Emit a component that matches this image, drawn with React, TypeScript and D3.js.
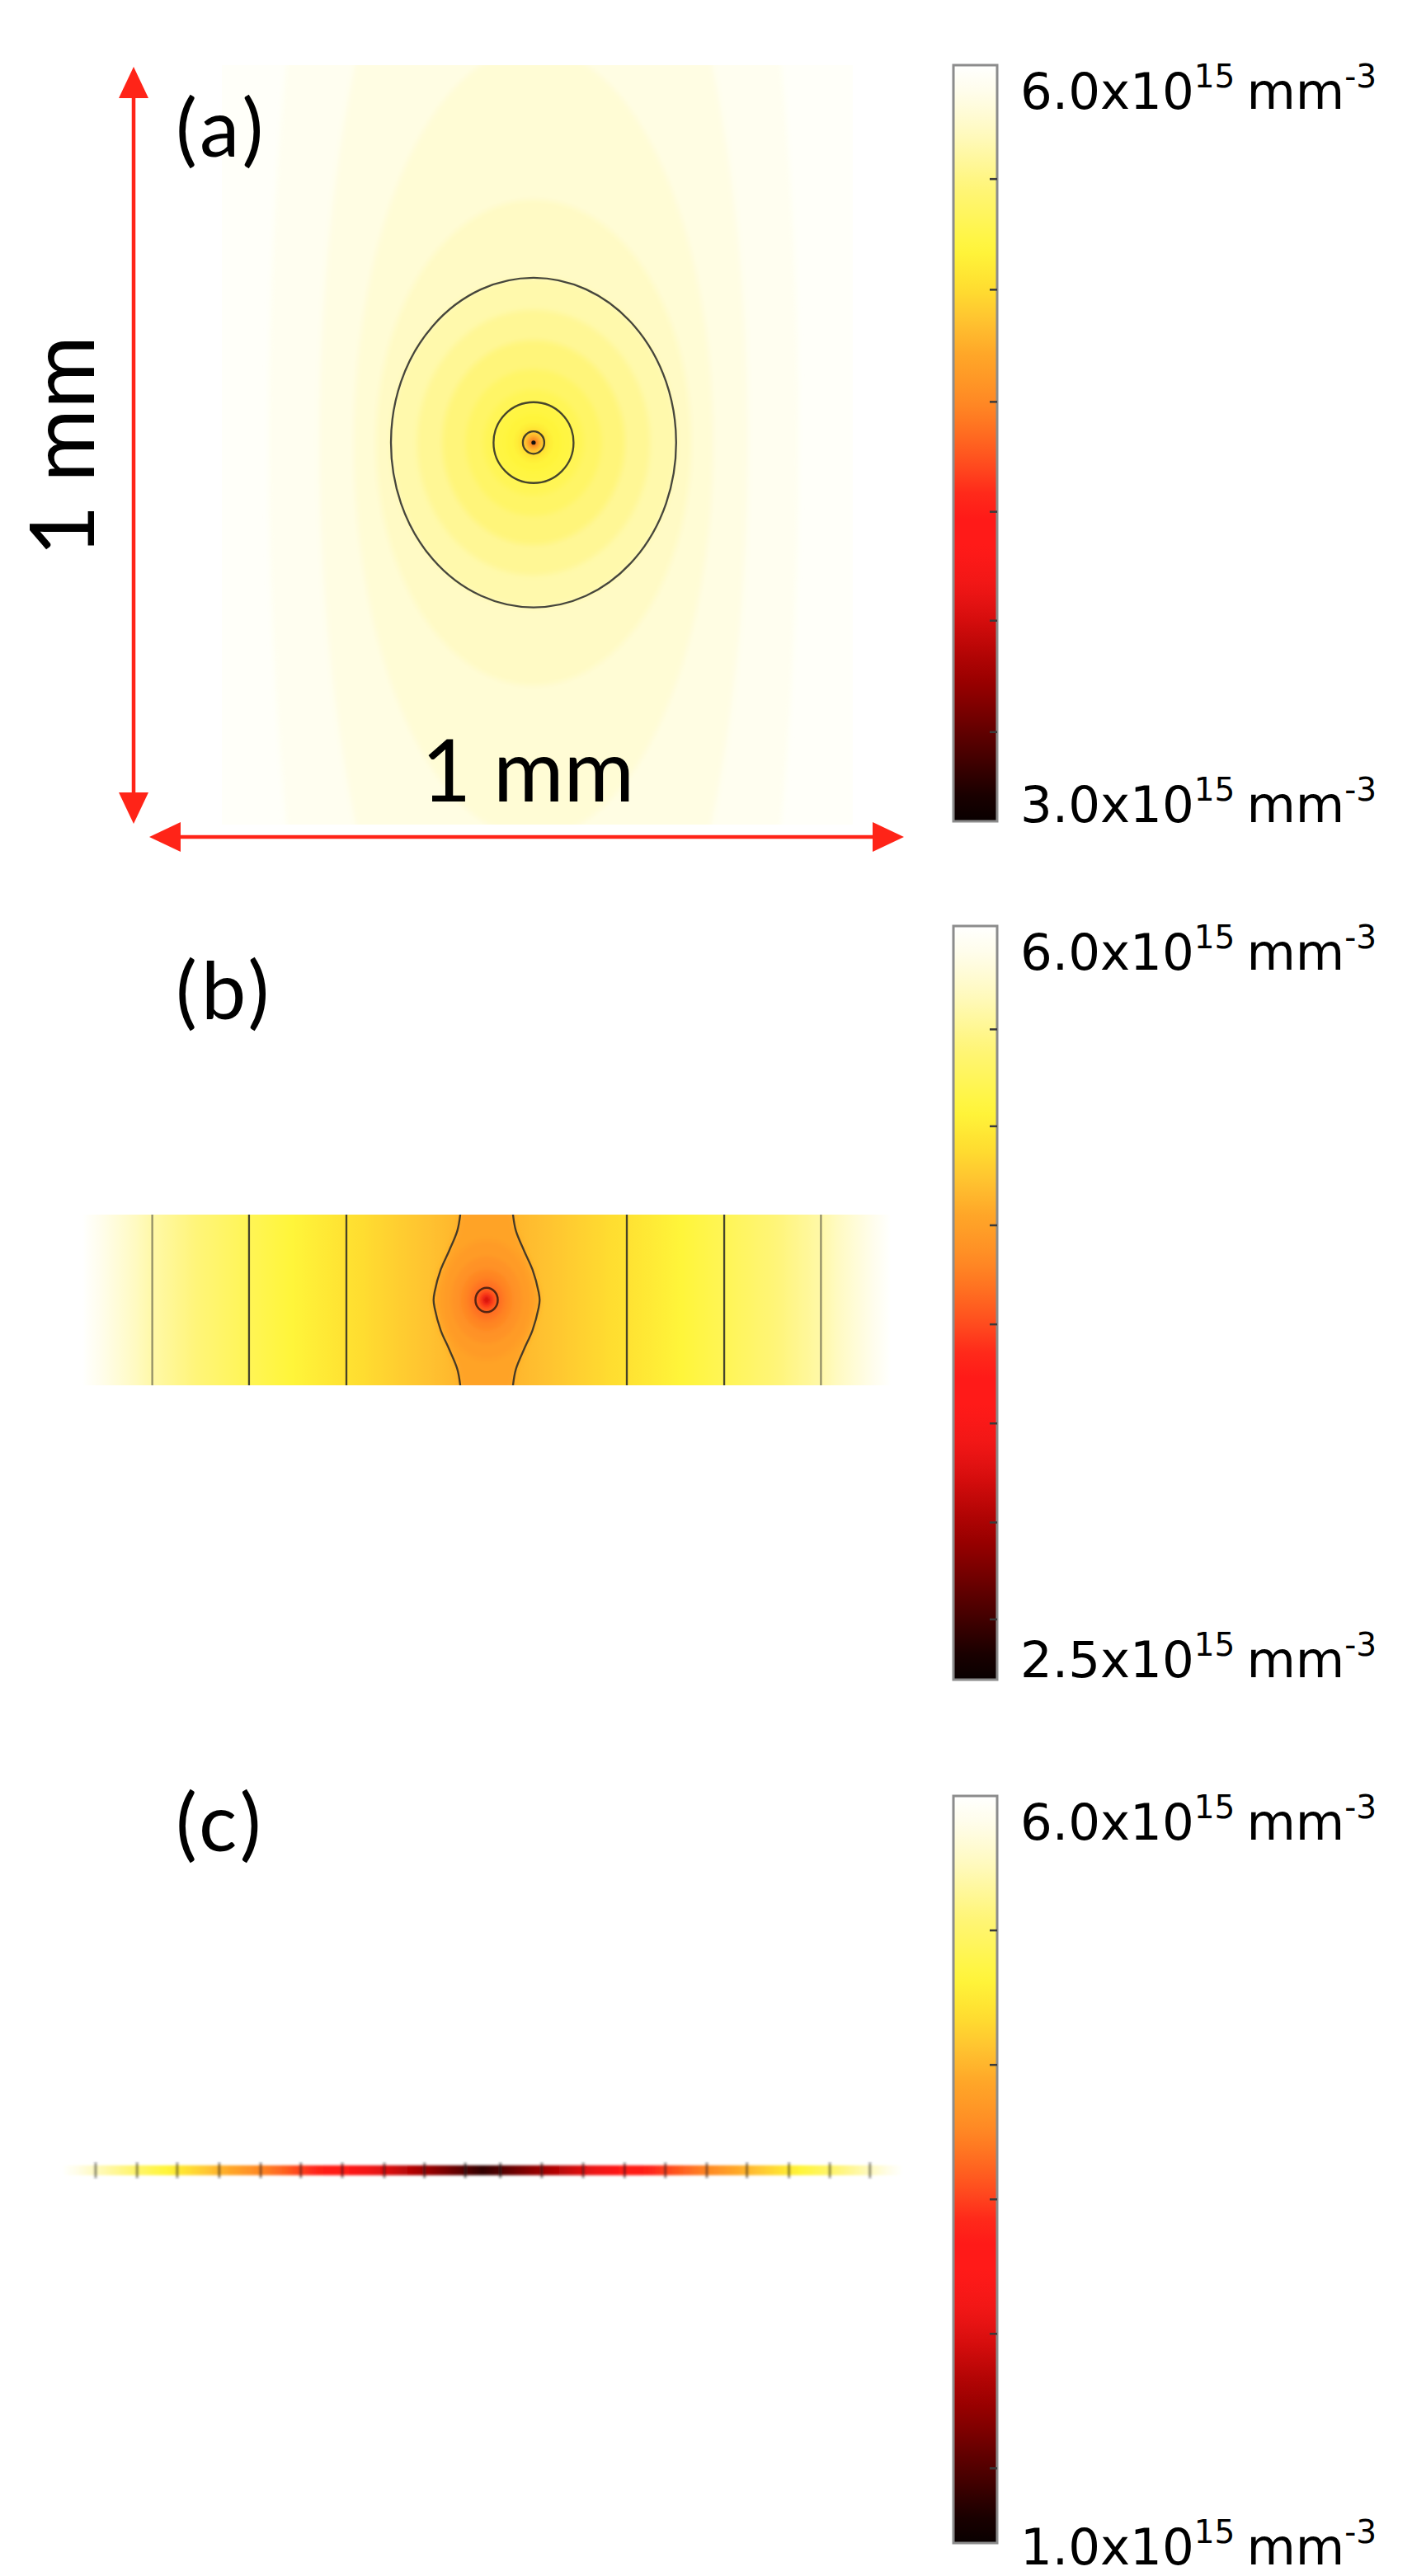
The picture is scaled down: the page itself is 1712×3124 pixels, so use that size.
import React from 'react';
import * as d3 from 'd3';

// ---------- colour map (t = 0 bottom, 1 top) ----------
const HEAT_T = [0, 0.035, 0.07, 0.107, 0.144, 0.18, 0.216, 0.27, 0.31, 0.36, 0.4, 0.435, 0.47, 0.51, 0.555, 0.62, 0.657, 0.704, 0.755, 0.84, 0.91, 0.96, 1];
const HEAT_COLORS = ['#080000', '#1a0000', '#380000', '#580000', '#780000', '#960000', '#b00404', '#d80e0e', '#f01616', '#ff1a18', '#ff1a18', '#ff2a1a', '#ff4a1e', '#ff6a20', '#ff8a24', '#ffa828', '#ffc030', '#ffdd30', '#fff53a', '#fff57a', '#fffac0', '#fffde8', '#ffffff'];

// ---------- texts ----------
const PANEL_LABELS = ['(a)', '(b)', '(c)'];
const LENGTH_LABEL = '1 mm';
const BAR_MAX_LABELS = ['6.0', '6.0', '6.0'];
const BAR_MIN_LABELS = ['3.0', '2.5', '1.0'];

// ---------- colour ranges (x10^15 mm^-3) and colour-bar ticks ----------
const RANGE_A = [3.0, 6.0];
const RANGE_B = [2.5, 6.0];
const RANGE_C = [1.0, 6.0];
const TICKS_A = [5.548, 5.109, 4.664, 4.228, 3.796, 3.354];
const TICKS_B = [5.52, 5.07, 4.61, 4.15, 3.69, 3.23, 2.78];
const TICKS_C = [5.1, 4.2, 3.3, 2.4, 1.5];

// ---------- panel (a): square cross-section, nested iso-bands (µm) ----------
const A_CENTER = { x: -6, y: 3 };
const A_BACKGROUND = 5.97;
const A_BANDS_V = [5.92, 5.86, 5.81, 5.75, 5.67, 5.6, 5.52, 5.44, 5.38, 5.3, 5.26, 5.18, 4.95, 4.7, 3.8];
const A_BANDS_RX = [420, 340, 285, 250, 226, 185, 145, 108, 80, 63.4, 45, 28, 17, 9, 4];
const A_BANDS_RY = [1400, 900, 520, 320, 217, 175, 135, 97, 70, 53.2, 38, 24, 14.7, 8, 3.6];
const A_CONTOUR_RX = [226, 63.4, 17];
const A_CONTOUR_RY = [217, 53.2, 14.7];

// ---------- panel (b): rectangular strip ----------
const B_PROFILE_X = [-650, -600, -527, -450, -374.5, -300, -221, -120, -41.6, 0, 41.6, 120, 221, 300, 374.5, 450, 527, 600, 650];
const B_PROFILE_V = [6.05, 5.85, 5.6, 5.42, 5.27, 5.13, 5.0, 4.85, 4.74, 4.68, 4.74, 4.85, 5.0, 5.13, 5.27, 5.42, 5.6, 5.85, 6.05];
const B_STRAIGHT_CONTOURS = [-527, -374.5, -221, 221, 374.5, 527];
const B_SPINDLE_Y = [-140, -110, -78, -48, -12.5, 0, 12.5, 48, 78, 110, 140];
const B_SPINDLE_DX = [41, 46, 59, 72.3, 82, 83.6, 82, 72.3, 59, 46, 41];
const B_SPINDLE_V = 4.63;
const B_DIP_V = [4.57, 4.5, 4.42, 4.33, 4.2, 3.95, 3.5, 2.9];
const B_DIP_RX = [70, 55, 40, 28, 17.6, 11, 6, 3];
const B_DIP_RY = [95, 68, 48, 33, 19.1, 12, 6.5, 3];
const B_CIRCLE_RX = 17.6;
const B_CIRCLE_RY = 19.1;

// ---------- panel (c): thin strip profile ----------
const C_PROFILE_X = [-660, -607, -542, -479, -413, -348, -285, -220, -154, -91, -27, 0, 28, 93, 158, 223, 287, 352, 415, 481, 545, 608, 660];
const C_PROFILE_V = [6.0, 5.55, 5.1, 4.65, 4.2, 3.75, 3.3, 2.85, 2.4, 1.95, 1.5, 1.3, 1.5, 1.95, 2.4, 2.85, 3.3, 3.75, 4.2, 4.65, 5.1, 5.55, 6.0];
const C_CONTOURS = [-607, -542, -479, -413, -348, -285, -220, -154, -91, -27, 28, 93, 158, 223, 287, 352, 415, 481, 545, 608];

// ------------------------------------------------------------------
const heat = d3.scaleLinear<string>().domain(HEAT_T).range(HEAT_COLORS).interpolate(d3.interpolateRgb).clamp(true);
const colorFor = (range: number[]) => {
  const t = d3.scaleLinear().domain(range).range([0, 1]).clamp(true);
  return (v: number) => heat(t(v));
};

const BAR_FONT = "'DejaVu Sans', Verdana, sans-serif";
const LABEL_FONT = "Lato, 'Open Sans', sans-serif";
const RED = '#ff2418';

function BarLabel({ x, y, mant }: { x: number; y: number; mant: string }) {
  return (
    <text x={x} y={y} fontFamily={BAR_FONT} fontSize={61} fill="#000">
      {mant}x10
      <tspan fontSize={39} dy={-26}>15</tspan>
      <tspan fontSize={61} dy={26} dx={14}>mm</tspan>
      <tspan fontSize={39} dy={-26}>-3</tspan>
    </text>
  );
}

function ColorBar({ id, x, y0, y1, range, ticks, maxLabel, minLabel, minLabelY }: any) {
  const w = 53;
  const sy = d3.scaleLinear().domain(range).range([y1, y0]);
  const stops = d3.range(0, 61).map((i) => i / 60);
  return (
    <g>
      <defs>
        <linearGradient id={id} x1="0" y1="1" x2="0" y2="0">
          {stops.map((t) => (
            <stop key={t} offset={t} stopColor={heat(t)} />
          ))}
        </linearGradient>
      </defs>
      <rect x={x} y={y0} width={w} height={y1 - y0} fill={`url(#${id})`} stroke="#8c8c8c" strokeWidth={3} />
      {ticks.map((v: number) => (
        <line key={v} x1={x + w - 9} x2={x + w} y1={sy(v)} y2={sy(v)} stroke="#3a3a3a" strokeWidth={2.5} />
      ))}
      <BarLabel x={1237} y={y0 + 53} mant={maxLabel} />
      <BarLabel x={1237} y={minLabelY} mant={minLabel} />
    </g>
  );
}

function Arrow({ x1, y1, x2, y2 }: { x1: number; y1: number; x2: number; y2: number }) {
  const len = 38, hw = 18;
  const ang = Math.atan2(y2 - y1, x2 - x1);
  const head = (tx: number, ty: number, a: number) => {
    const bx = tx - len * Math.cos(a), by = ty - len * Math.sin(a);
    const px = -Math.sin(a) * hw, py = Math.cos(a) * hw;
    const p = d3.path();
    p.moveTo(tx, ty);
    p.lineTo(bx + px, by + py);
    p.lineTo(bx - px, by - py);
    p.closePath();
    return p.toString();
  };
  const inset = len - 4;
  return (
    <g>
      <line
        x1={x1 + inset * Math.cos(ang)} y1={y1 + inset * Math.sin(ang)}
        x2={x2 - inset * Math.cos(ang)} y2={y2 - inset * Math.sin(ang)}
        stroke={RED} strokeWidth={4.5}
      />
      <path d={head(x2, y2, ang)} fill={RED} />
      <path d={head(x1, y1, ang + Math.PI)} fill={RED} />
    </g>
  );
}

export default function App() {
  // ----- panel (a) -----
  const aL = 269, aR = 1034, aT = 79, aB = 1000;
  const ax = d3.scaleLinear().domain([-500, 500]).range([aL, aR]);
  const ay = d3.scaleLinear().domain([500, -500]).range([aT, aB]);
  const colA = colorFor(RANGE_A);
  const acx = ax(A_CENTER.x), acy = ay(A_CENTER.y);
  const kx = (aR - aL) / 1000, ky = (aB - aT) / 1000;

  // ----- panel (b) -----
  const bL = 90, bR = 1090, bT = 1473, bB = 1680;
  const bx = d3.scaleLinear().domain([-650, 650]).range([bL, bR]);
  const by = d3.scaleLinear().domain([135, -135]).range([bT, bB]);
  const colB = colorFor(RANGE_B);
  const bProfile = d3.scaleLinear().domain(B_PROFILE_X).range(B_PROFILE_V).clamp(true);
  const bStops = d3.range(0, 201).map((i) => i / 200);
  const bkx = (bR - bL) / 1300, bky = (bB - bT) / 270;
  const line = d3.line<[number, number]>().curve(d3.curveCatmullRom);
  const leftPts: [number, number][] = B_SPINDLE_Y.map((y, i) => [bx(-B_SPINDLE_DX[i]), by(y)]);
  const rightPts: [number, number][] = B_SPINDLE_Y.map((y, i) => [bx(B_SPINDLE_DX[i]), by(y)]);
  const leftPath = line(leftPts) as string;
  const rightPath = line(rightPts) as string;
  const spindleFill = leftPath + (line(rightPts.slice().reverse()) as string).replace(/^M/, 'L') + 'Z';

  // ----- panel (c) -----
  const cL = 75, cR = 1095, cY0 = 2626, cY1 = 2638;
  const cx = d3.scaleLinear().domain([-660, 660]).range([cL, cR]);
  const colC = colorFor(RANGE_C);
  const cProfile = d3.scaleLinear().domain(C_PROFILE_X).range(C_PROFILE_V).clamp(true);
  const cStops = d3.range(0, 301).map((i) => i / 300);

  const panelLabel = (y: number, s: string) => (
    <text x={213} y={y} fontFamily={LABEL_FONT} fontSize={97} letterSpacing={5} fill="#000">{s}</text>
  );

  return (
    <svg width={1712} height={3124} viewBox="0 0 1712 3124" style={{ position: 'absolute', left: 0, top: 0, display: 'block', background: '#fff' }}>
      <defs>
        <clipPath id="clipA"><rect x={aL} y={aT} width={aR - aL} height={aB - aT} /></clipPath>
        <clipPath id="clipB"><rect x={bL} y={bT} width={bR - bL} height={bB - bT} /></clipPath>
        <filter id="blurA" x="-20%" y="-20%" width="140%" height="140%"><feGaussianBlur stdDeviation={3} /></filter>
        <filter id="blurB" x="-20%" y="-20%" width="140%" height="140%"><feGaussianBlur stdDeviation={3} /></filter>
        <filter id="blurC" x="-5%" y="-200%" width="110%" height="500%"><feGaussianBlur stdDeviation={1.6} /></filter>
        <linearGradient id="gradB" gradientUnits="userSpaceOnUse" x1={bL} y1={0} x2={bR} y2={0}>
          {bStops.map((t) => (
            <stop key={t} offset={t} stopColor={colB(bProfile(bx.invert(bL + t * (bR - bL))))} />
          ))}
        </linearGradient>
        <linearGradient id="gradC" gradientUnits="userSpaceOnUse" x1={cL} y1={0} x2={cR} y2={0}>
          {cStops.map((t) => (
            <stop key={t} offset={t} stopColor={colC(cProfile(cx.invert(cL + t * (cR - cL))))} />
          ))}
        </linearGradient>
      </defs>
      <rect x={0} y={0} width={1712} height={3124} fill="#fff" />

      {/* ================= panel (a) ================= */}
      <g clipPath="url(#clipA)">
        <rect x={aL} y={aT} width={aR - aL} height={aB - aT} fill={colA(A_BACKGROUND)} />
        <g filter="url(#blurA)">
          {A_BANDS_V.map((v, i) => (
            <ellipse key={i} cx={acx} cy={acy} rx={A_BANDS_RX[i] * kx} ry={A_BANDS_RY[i] * ky} fill={colA(v)} />
          ))}
        </g>
        {A_CONTOUR_RX.map((rx, i) => (
          <ellipse key={i} cx={acx} cy={acy} rx={rx * kx} ry={A_CONTOUR_RY[i] * ky} fill="none" stroke="#262626" strokeWidth={2.3} strokeOpacity={0.85} />
        ))}
        <circle cx={acx} cy={acy} r={2.6} fill="#111" />
      </g>
      <Arrow x1={162} y1={81} x2={162} y2={999} />
      <Arrow x1={181} y1={1015} x2={1096} y2={1015} />
      <text x={640} y={972} textAnchor="middle" fontFamily={LABEL_FONT} fontSize={104} fill="#000">{LENGTH_LABEL}</text>
      <text transform="translate(114,541) rotate(-90)" textAnchor="middle" fontFamily={LABEL_FONT} fontSize={108} fill="#000">{LENGTH_LABEL}</text>
      {panelLabel(190, PANEL_LABELS[0])}
      <ColorBar id="cbA" x={1156} y0={79} y1={996} range={RANGE_A} ticks={TICKS_A} maxLabel={BAR_MAX_LABELS[0]} minLabel={BAR_MIN_LABELS[0]} minLabelY={997} />

      {/* ================= panel (b) ================= */}
      <g clipPath="url(#clipB)">
        <rect x={bL} y={bT} width={bR - bL} height={bB - bT} fill="url(#gradB)" />
        <g filter="url(#blurB)">
          <path d={spindleFill} fill={colB(B_SPINDLE_V)} />
          {B_DIP_V.map((v, i) => (
            <ellipse key={i} cx={bx(0)} cy={by(0)} rx={B_DIP_RX[i] * bkx} ry={B_DIP_RY[i] * bky} fill={colB(v)} />
          ))}
        </g>
        {B_STRAIGHT_CONTOURS.map((x, i) => (
          <line key={i} x1={bx(x)} x2={bx(x)} y1={bT} y2={bB} stroke="#262626" strokeWidth={2.3}
            strokeOpacity={Math.abs(x) > 500 ? 0.5 : 0.85} />
        ))}
        <path d={leftPath} fill="none" stroke="#262626" strokeWidth={2.3} strokeOpacity={0.85} />
        <path d={rightPath} fill="none" stroke="#262626" strokeWidth={2.3} strokeOpacity={0.85} />
        <ellipse cx={bx(0)} cy={by(0)} rx={B_CIRCLE_RX * bkx} ry={B_CIRCLE_RY * bky} fill="none" stroke="#3a1a10" strokeWidth={2.5} strokeOpacity={0.85} />
      </g>
      {panelLabel(1236, PANEL_LABELS[1])}
      <ColorBar id="cbB" x={1156} y0={1123} y1={2037} range={RANGE_B} ticks={TICKS_B} maxLabel={BAR_MAX_LABELS[1]} minLabel={BAR_MIN_LABELS[1]} minLabelY={2034} />

      {/* ================= panel (c) ================= */}
      <g filter="url(#blurC)">
        <rect x={cL} y={cY0} width={cR - cL} height={cY1 - cY0} fill="url(#gradC)" />
        {C_CONTOURS.map((x, i) => (
          <line key={i} x1={cx(x)} x2={cx(x)} y1={cY0 - 3} y2={cY1 + 3} stroke="#1a1a1a" strokeWidth={2.6} strokeOpacity={0.75} />
        ))}
      </g>
      {panelLabel(2245, PANEL_LABELS[2])}
      <ColorBar id="cbC" x={1156} y0={2178} y1={3084} range={RANGE_C} ticks={TICKS_C} maxLabel={BAR_MAX_LABELS[2]} minLabel={BAR_MIN_LABELS[2]} minLabelY={3110} />
    </svg>
  );
}
